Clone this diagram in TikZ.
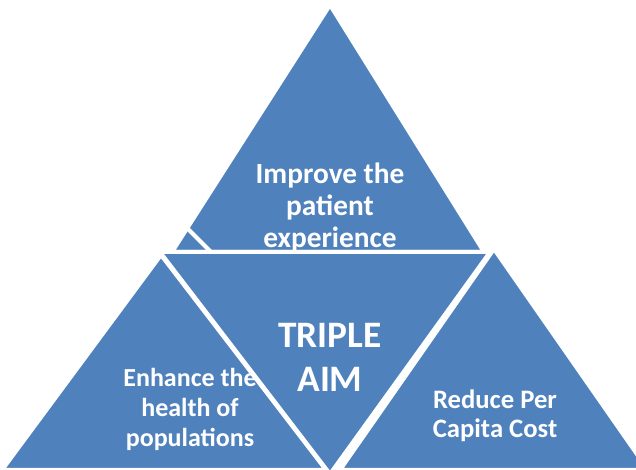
\documentclass[tikz,border=0pt]{standalone}
\usepackage{fontspec}
\setmainfont{Carlito}
\definecolor{aimblue}{RGB}{79,129,189}

\begin{document}
\begin{tikzpicture}[x=0.75pt, y=-0.75pt,
  tri/.style={fill=aimblue, draw=white, line width=3pt, line join=miter},
  lbl/.style={text=white, font=\bfseries\fontsize{19.5}{22.5}\selectfont, align=center, inner sep=0pt},
  toplbl/.style={lbl, font=\bfseries\fontsize{22}{24}\selectfont},
  big/.style={text=white, font=\bfseries\fontsize{28}{33}\selectfont, align=center, inner sep=0pt}
]
\useasboundingbox (0,0) rectangle (636,470);

% Top triangle
\draw[tri] (330,5) -- (172,252) -- (484,252) -- cycle;
\draw[white, line width=3pt] (188,229) -- (211,252);
\node[toplbl] (improve) at (330,208) {Improve the\\patient\\experience};

% Side triangles
\draw[tri] (161,255) -- (2,470) -- (326,470) -- cycle;
\draw[tri] (494,249) -- (340,470) -- (648,470) -- cycle;

% Centre triangle
\draw[tri] (160,252) -- (490,252) -- (330,474) -- cycle;

% Labels
\node[big] (aim) at (330,357) {TRIPLE\\AIM};
\node[lbl] (health) at (190,409) {Enhance the\\health of\\populations};
\node[lbl, font=\bfseries\fontsize{20}{22}\selectfont] (cost) at (495,416) {Reduce Per\\Capita Cost};
\end{tikzpicture}
\end{document}
